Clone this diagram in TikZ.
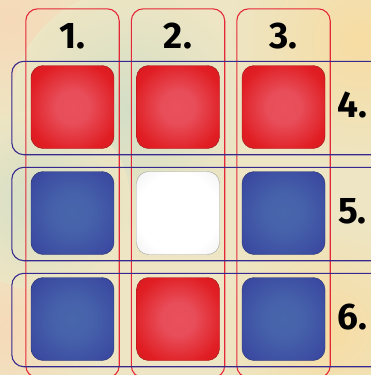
\documentclass[tikz,border=0pt]{standalone}
\usepackage{fontspec}
\setsansfont{Fira Sans}
\usetikzlibrary{calc}
\definecolor{paper}{HTML}{EDE5C3}
\definecolor{peach}{HTML}{F6D9B8}
\definecolor{sage}{HTML}{D3DEC6}
\definecolor{honey}{HTML}{F7DCA2}
\definecolor{tilered}{HTML}{E01D22}
\definecolor{tileredhi}{HTML}{E8505C}
\definecolor{tileblue}{HTML}{3A48A0}
\definecolor{tilebluehi}{HTML}{4866AC}
\definecolor{tilewhite}{HTML}{E4E4E4}
\definecolor{colline}{HTML}{E52838}
\definecolor{rowline}{HTML}{35288E}
\pgfdeclareradialshading{redglow}{\pgfpoint{0bp}{0bp}}{color(0bp)=(tileredhi); color(10bp)=(tileredhi!95!tilered);
  color(28bp)=(tilered); color(50bp)=(tilered!90!black)}
\pgfdeclareradialshading{blueglow}{\pgfpoint{0bp}{0bp}}{color(0bp)=(tilebluehi); color(12bp)=(tilebluehi!85!tileblue);
  color(32bp)=(tileblue); color(50bp)=(tileblue!90!black)}
\pgfdeclareradialshading{whiteglow}{\pgfpoint{0bp}{0bp}}{color(0bp)=(white); color(24bp)=(white);
  color(38bp)=(tilewhite!60!white); color(50bp)=(tilewhite)}
\tikzset{
  tile/.style={rounded corners=12pt, minimum size=83pt, inner sep=0pt, draw=#1!70!black, line width=0.4pt},
  frame/.style={rounded corners=12pt, line width=1.1pt},
  tag/.style={font=\sffamily\bfseries\fontsize{37}{37}\selectfont, inner sep=0pt, anchor=base}
}
\begin{document}
\begin{tikzpicture}[x=1pt, y=-1pt]
\clip (0,0) rectangle (371,375);
% watercolour paper
\fill[paper] (0,0) rectangle (371,375);
\foreach \bx/\by/\br/\bc in {10/20/110/peach, 130/110/120/sage, 360/40/130/honey,
                             10/330/90/peach, 330/330/110/honey, 40/200/90/sage}
  \shade[inner color=\bc, outer color=paper] (\bx,\by) circle (\br);
% tiles, row by row
\foreach \c/\r/\kind/\edge in {1/1/redglow/tilered, 2/1/redglow/tilered, 3/1/redglow/tilered,
                               1/2/blueglow/tileblue, 2/2/whiteglow/tilewhite, 3/2/blueglow/tileblue,
                               1/3/blueglow/tileblue, 2/3/redglow/tilered, 3/3/blueglow/tileblue}
  \node[tile=\edge, shading=\kind] (t\c\r) at (72.5+105.5*\c-105.5, 107+106*\r-106) {};
% column frames (red) and row frames (blue)
\foreach \c in {1,2,3}
  \draw[frame, colline] ($(t\c1.north west)+(-5,-56.5)$) rectangle ($(t\c3.south east)+(5,17)$);
\foreach \r in {1,2,3}
  \draw[frame, rowline] ($(t1\r.north west)+(-19,-4)$) rectangle ($(t3\r.south east)+(60,6)$);
% labels
\foreach \c in {1,2,3}
  \node[tag] (col\c) at ($(t\c1.north)+(0,-17)$) {\c.};
\foreach \r/\n in {1/4,2/5,3/6}
  \node[tag] (row\r) at ($(t3\r.center)+(69,10)$) {\n.};
\end{tikzpicture}
\end{document}
